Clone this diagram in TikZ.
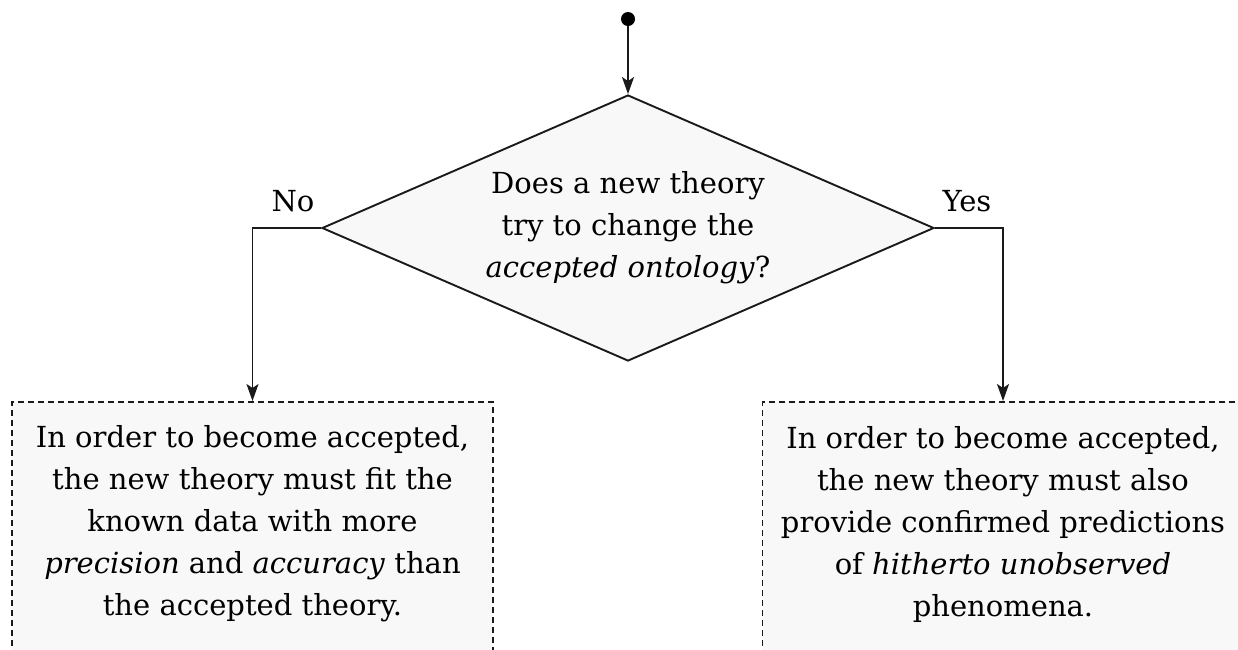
\documentclass[tikz,border=0pt]{standalone}
\usepackage{fontspec}
\setmainfont{DejaVu Serif}
\usetikzlibrary{shapes.geometric,arrows.meta}
\definecolor{boxfill}{HTML}{F8F8F8}
\definecolor{ink}{HTML}{1A1A1A}
\tikzset{
  conn/.style={line width=1.9pt,draw=ink,-{Stealth[length=17pt,width=12pt,inset=4pt]}},
  decision/.style={diamond,draw=ink,line width=1.9pt,fill=boxfill,shape aspect=2.3,minimum width=612pt,minimum height=266pt,inner sep=0pt,align=center,font=\fontsize{29}{42}\selectfont},
  outbox/.style={rectangle,draw=ink,dashed,dash pattern=on 6pt off 4pt,line width=1.5pt,fill=boxfill,minimum width=481pt,minimum height=300pt,anchor=north},
  boxtext/.style={align=center,font=\fontsize{29}{42}\selectfont,inner sep=0pt},
  lbl/.style={font=\fontsize{29}{34}\selectfont,inner sep=0pt}
}
\begin{document}
\begin{tikzpicture}[x=1pt,y=-1pt]
\useasboundingbox[fill=white] (0,0) rectangle (1238,649);
\clip (0,0) rectangle (1238,649);
\node[circle,fill=black,minimum size=14pt,inner sep=0pt] (start) at (628,19) {};
\node[decision] (dec) at (628,228) {Does a new theory\\try to change the\\\textit{accepted ontology}?};
\node[outbox] (lbox) at (252.5,401) {};
\node[outbox] (rbox) at (1003,401) {};
\node[boxtext] (ltext) at (252.5,524) {In order to become accepted,\\the new theory must fit the\\known data with more\\\textit{precision} and \textit{accuracy} than\\the accepted theory.};
\node[boxtext] (rtext) at (1003,524) {In order to become accepted,\\the new theory must also\\provide confirmed predictions\\of \textit{hitherto unobserved}\\phenomena.};
\node[lbl] (no) at (293,201) {No};
\node[lbl] (yes) at (967,201) {Yes};
\draw[conn] (start) -- (dec.north);
\draw[conn] (dec.west) -| (lbox.north);
\draw[conn] (dec.east) -| (rbox.north);
\end{tikzpicture}
\end{document}
